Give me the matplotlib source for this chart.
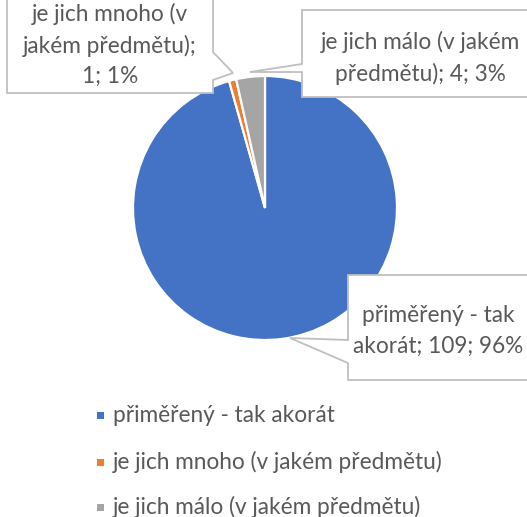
import matplotlib
matplotlib.use("Agg")
import matplotlib.pyplot as plt
from matplotlib.patches import Polygon, Rectangle

plt.rcParams['font.family'] = ['Lato', 'Noto Sans', 'DejaVu Sans']

categories = ["přiměřený - tak akorát", "je jich mnoho (v jakém předmětu)", "je jich málo (v jakém předmětu)"]
values = [109, 1, 4]
label_texts = ["přiměřený - tak\nakorát; 109; 96%", "je jich mnoho (v\njakém předmětu);\n1; 1%", "je jich málo (v jakém\npředmětu); 4; 3%"]
colors = ["#4472C4", "#ED7D31", "#A5A5A5"]

W, H = 527, 517
fig = plt.figure(figsize=(W / 100, H / 100), dpi=100)
ax = fig.add_axes([0, 0, 1, 1])

def Y(y):
    return H - y

cx, cy, r = 265, 208, 132
ax.pie(values, colors=colors, startangle=90, counterclock=False,
       center=(cx, Y(cy)), radius=r, frame=True,
       wedgeprops=dict(edgecolor='white', linewidth=1.6))
ax.set_xlim(0, W)
ax.set_ylim(0, H)
ax.set_aspect('equal')
ax.axis('off')

txt_color = "#595959"
edge = "#BFBFBF"
fs = 16.3

def callout(pts, text, tx, ty):
    poly = Polygon([(x, Y(y)) for x, y in pts], closed=True, facecolor='white',
                   edgecolor=edge, linewidth=1.3, zorder=5)
    ax.add_patch(poly)
    ax.text(tx, Y(ty), text, ha='center', va='center', color=txt_color,
            fontsize=fs, zorder=6, linespacing=1.55)

# blue label
callout([(348, 275), (540, 275), (540, 380), (348, 380), (348, 363), (290, 338), (348, 340)],
        label_texts[0], 438, 331)
# orange label
callout([(7, -20), (213, -20), (213, 52), (233, 73), (213, 80), (213, 93), (7, 93)],
        label_texts[1], 110, 45)
# gray label
callout([(302, 10), (540, 10), (540, 97), (302, 97), (302, 72), (250, 72), (302, 64)],
        label_texts[2], 420, 58)

# legend
rows = [415, 462, 507]
for cat, col, ry in zip(categories, colors, rows):
    ax.add_patch(Rectangle((96.5, Y(ry) - 3.5), 7, 7, facecolor=col, edgecolor='none', zorder=6))
    ax.text(113, Y(ry), cat, ha='left', va='center', color=txt_color, fontsize=fs, zorder=6)

fig.savefig("out.png", dpi=100)
